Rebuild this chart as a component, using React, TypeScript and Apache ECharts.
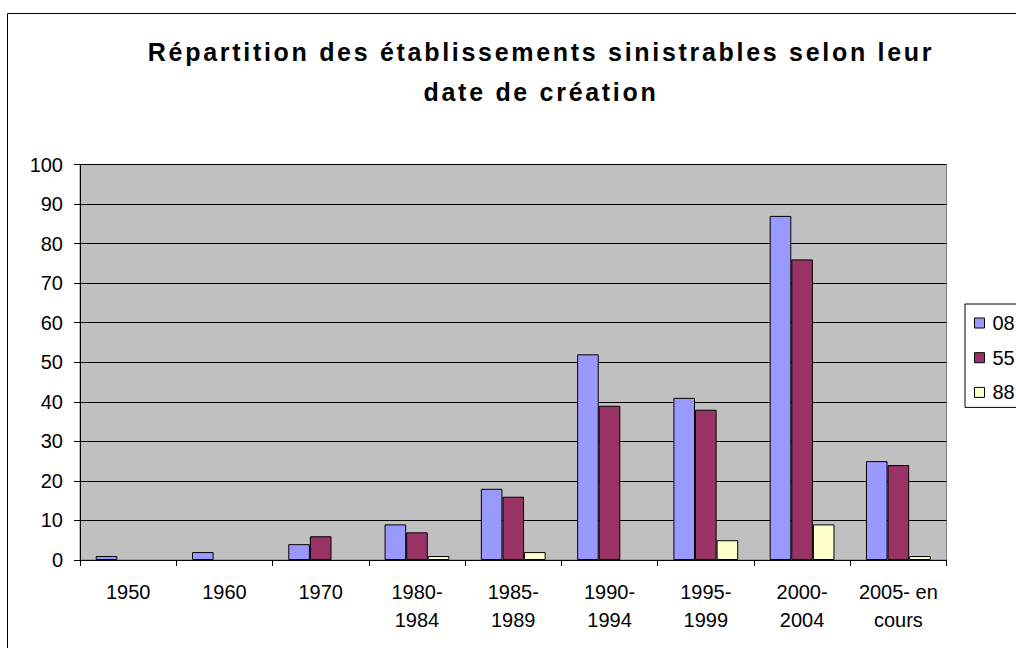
import React, { useEffect, useRef } from "react";
import * as echarts from "echarts";

const categories = ["1950", "1960", "1970", "1980-\n1984", "1985-\n1989", "1990-\n1994", "1995-\n1999", "2000-\n2004", "2005- en\ncours"];
const s08 = [1, 2, 4, 9, 18, 52, 41, 87, 25];
const s55 = [0, 0, 6, 7, 16, 39, 38, 76, 24];
const s88 = [0, 0, 0, 1, 2, 0, 5, 9, 1];
const seriesNames = ["08", "55", "88"];
const colors = ["#9999FF", "#993366", "#FFFFCC"];

export default function App() {
  const ref = useRef<HTMLDivElement>(null);
  useEffect(() => {
    const chart = echarts.init(ref.current!, null, { renderer: "svg" });
    const font = "Arial, 'Liberation Sans', sans-serif";
    const data = [s08, s55, s88];
    chart.setOption({
      animation: false,
      textStyle: { fontFamily: font },
      graphic: [
        {
          type: "rect",
          shape: { x: 7.5, y: 13.5, width: 1100, height: 700 },
          style: { fill: "#fff", stroke: "#000", lineWidth: 1 },
          z: -10,
          silent: true,
        },
      ],
      title: {
        text: "Répartition des établissements sinistrables selon leur\ndate de création",
        left: 536,
        textAlign: "center",
        top: 27,
        textStyle: { fontSize: 25, fontWeight: "bold", color: "#000", lineHeight: 40, fontFamily: font },
      },
      legend: {
        orient: "vertical",
        left: 965,
        top: 304,
        padding: [9, 40, 5, 9],
        itemWidth: 10,
        itemHeight: 10,
        itemGap: 14.7,
        backgroundColor: "#fff",
        borderColor: "#000",
        borderWidth: 1,
        icon: "rect",
        itemStyle: { borderColor: "#000", borderWidth: 1 },
        textStyle: { fontSize: 20, color: "#000", padding: [0, 0, 0, 3] },
        data: seriesNames,
      },
      grid: {
        left: 80,
        top: 164.5,
        width: 866.5,
        height: 395.5,
        show: true,
        backgroundColor: "#C0C0C0",
        borderColor: "#808080",
        borderWidth: 1,
      },
      xAxis: {
        type: "category",
        data: categories,
        axisLine: { lineStyle: { color: "#000", width: 1 } },
        axisTick: { show: true, length: 6, lineStyle: { color: "#000" } },
        axisLabel: { fontSize: 20, color: "#000", lineHeight: 28, margin: 18, interval: 0 },
      },
      yAxis: {
        type: "value",
        min: 0,
        max: 100,
        interval: 10,
        axisLine: { show: true, lineStyle: { color: "#000", width: 1 } },
        axisTick: { show: true, length: 6, lineStyle: { color: "#000" } },
        axisLabel: { fontSize: 20, color: "#000", margin: 17 },
        splitLine: { lineStyle: { color: "#000", width: 1 } },
      },
      series: seriesNames.map((n, i) => ({
        name: n,
        type: "bar",
        data: data[i].map((v) => (v === 0 ? null : v)),
        barWidth: 21.6,
        barGap: "0%",
        itemStyle: { color: colors[i], borderColor: "#000", borderWidth: 1 },
      })),
    });
    return () => chart.dispose();
  }, []);
  return (
    <>
      <style>{`#chartbox svg text[style*="bold"] { letter-spacing: 2.7px; }`}</style>
      <div
        id="chartbox"
        ref={ref}
        style={{ position: "absolute", left: 0, top: 0, width: 1016, height: 648 }}
      />
    </>
  );
}
